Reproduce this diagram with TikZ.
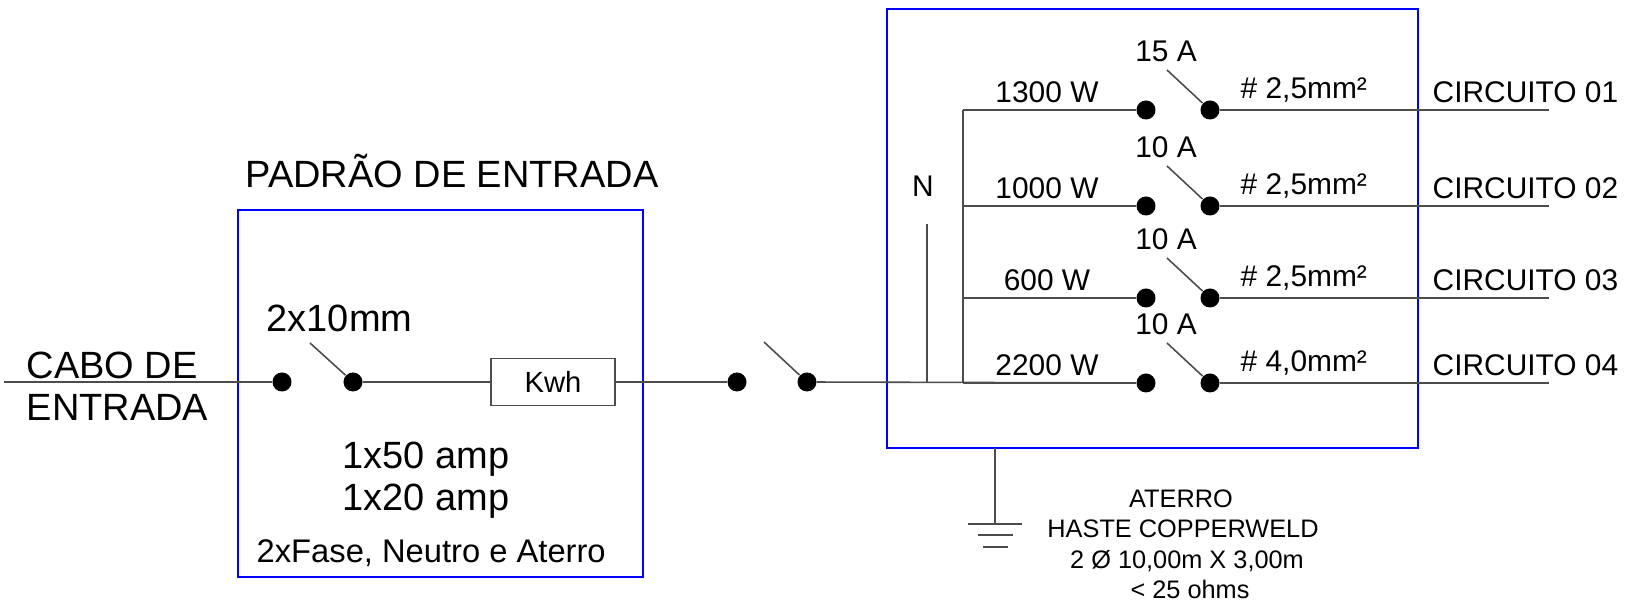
\documentclass[tikz,border=0pt]{standalone}
\usepackage{fontspec}
\setmainfont{Liberation Sans}

\begin{document}
\begin{tikzpicture}[x=0.01cm,y=-0.01cm,
	wire/.style={black!70,line width=0.45pt},
	frame/.style={blue,line width=0.6pt},
	dot/.style={circle,fill=black,inner sep=0pt,minimum size=0.19cm},
	big/.style={font=\fontsize{10.8}{13}\selectfont,inner sep=0pt},
	small/.style={font=\fontsize{8.5}{10}\selectfont,inner sep=0pt},
	tiny/.style={font=\fontsize{7.2}{8.6}\selectfont,inner sep=0pt}]
	\useasboundingbox (0,0) rectangle (1632,601);
	% padrao de entrada
	\draw[frame] (238,210) rectangle (643,577);
	\node[big,anchor=base] (padrao) at (452,188) {PADRÃO DE ENTRADA};
	\node[big,anchor=base west] (cabo) at (26,379) {CABO DE};
	\node[big,anchor=base west] (entrada) at (26,421) {ENTRADA};
	\coordinate (inicio) at (4,382);
	\node[dot] (s1a) at (282,382) {};
	\node[dot] (s1b) at (353,382) {};
	\coordinate (l0) at ([shift={(-43,-39)}]s1b.center);
	\node[big,anchor=base west] (bitola) at (266,332) {2x10mm};
	\node[draw=black!70,line width=0.45pt,minimum width=1.24cm,minimum height=0.47cm,
		inner sep=0pt,font=\fontsize{8.3}{10}\selectfont] (kwh) at (553,382) {Kwh};
	\node[big,anchor=base] (amp1) at (426,469) {1x50 amp};
	\node[big,anchor=base] (amp2) at (426,511) {1x20 amp};
	\node[font=\fontsize{9.3}{11}\selectfont,inner sep=0pt,anchor=base west] (fases) at (256,563) {2xFase, Neutro e Aterro};
	\draw[wire] (inicio) -- (s1a);
	\draw[wire] (l0) -- (s1b);
	\draw[wire] (s1b) -- (kwh);
	% chave geral
	\node[dot] (s2a) at (737,382) {};
	\node[dot] (s2b) at (807,382) {};
	\coordinate (l5) at ([shift={(-43,-40)}]s2b.center);
	\draw[wire] (kwh) -- (s2a);
	\draw[wire] (l5) -- (s2b);
	% quadro de distribuicao
	\draw[frame] (887,9) rectangle (1418,448);
	\node[small,anchor=base] (neutro) at (923,197) {N};
	\coordinate (ntop) at (927,224);
	\coordinate (nbot) at (927,383);
	\coordinate (bustop) at (963,110);
	\coordinate (busbot) at (963,383);
	\draw[wire] (ntop) -- (nbot);
	\draw[wire] (bustop) -- (busbot);
	\foreach \i/\y/\w/\a/\s in {1/110/1300 W/15 A/{\# 2,5mm²},2/206/1000 W/10 A/{\# 2,5mm²},
		3/298/600 W/10 A/{\# 2,5mm²},4/383/2200 W/10 A/{\# 4,0mm²}}{
		\node[dot] (r\i a) at (1146,\y) {};
		\node[dot] (r\i b) at (1210,\y) {};
		\coordinate (b\i) at (963,\y);
		\coordinate (e\i) at (1549,\y);
		\coordinate (l\i) at (1167,\y-40);
		\draw[wire] (b\i) -- (r\i a);
		\draw[wire] (l\i) -- (r\i b);
		\draw[wire] (r\i b) -- (e\i);
		\node[small,anchor=base] (w\i) at (1047,\y-7) {\w};
		\node[small,anchor=base] (a\i) at (1166,\y-48) {\a};
		\node[small,anchor=base west] (m\i) at (1240,\y-11) {\s};
		\node[small,anchor=base west] (c\i) at (1432,\y-7) {CIRCUITO 0\i};
	}
	\draw[wire] (s2b) -- (r4a);
	% aterramento
	\coordinate (gtop) at (995,448);
	\coordinate (gbot) at (995,524);
	\draw[wire] (gtop) -- (gbot);
	\draw[wire] (968,524) -- (1022,524);
	\draw[wire] (978,535) -- (1013,535);
	\draw[wire] (983,547) -- (1008,547);
	\foreach \t/\x/\y [count=\k] in {ATERRO/1181/508,HASTE COPPERWELD/1183/538,
		{2 Ø 10,00m X 3,00m}/1187/569,{< 25 ohms}/1190/599}{
		\node[tiny,anchor=base] (g\k) at (\x,\y) {\t};
	}
\end{tikzpicture}
\end{document}
